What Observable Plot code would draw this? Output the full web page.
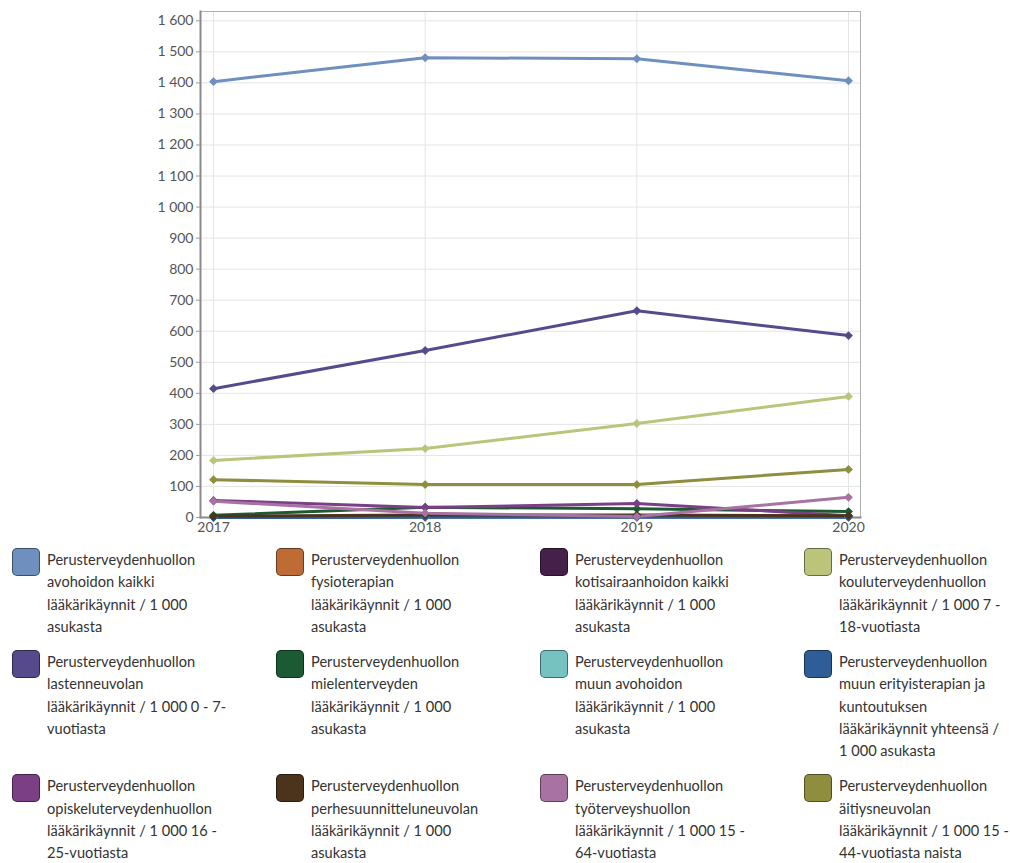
<!DOCTYPE html>
<html><head><meta charset="utf-8">
<script src="https://cdn.jsdelivr.net/npm/d3@7"></script>
<script src="https://cdn.jsdelivr.net/npm/@observablehq/plot@0.6"></script>
<style>
body{margin:0;background:#fff;font-family:"Source Sans Pro",Lato,"Open Sans",sans-serif;}
#chart svg{display:block}
#legend{display:grid;grid-template-columns:repeat(4,264px);padding-left:12px;row-gap:12px;margin-top:3px}
.item{display:flex;align-items:flex-start}
.sw{width:26px;height:26px;border-radius:5px;border:1px solid rgba(0,0,0,0.45);flex:none}
.lab{margin-left:7px;font-size:14.6px;line-height:22.25px;color:#333;white-space:pre;margin-top:1px}
</style>
</head><body>
<div id="chart"></div>
<div id="legend"></div>
<script>
const years = [2017, 2018, 2019, 2020];
const yTicks = [0,100,200,300,400,500,600,700,800,900,1000,1100,1200,1300,1400,1500,1600];
const seriesNames = [
  "Perusterveydenhuollon\navohoidon kaikki\nlääkärikäynnit / 1 000\nasukasta",
  "Perusterveydenhuollon\nfysioterapian\nlääkärikäynnit / 1 000\nasukasta",
  "Perusterveydenhuollon\nkotisairaanhoidon kaikki\nlääkärikäynnit / 1 000\nasukasta",
  "Perusterveydenhuollon\nkouluterveydenhuollon\nlääkärikäynnit / 1 000 7 -\n18-vuotiasta",
  "Perusterveydenhuollon\nlastenneuvolan\nlääkärikäynnit / 1 000 0 - 7-\nvuotiasta",
  "Perusterveydenhuollon\nmielenterveyden\nlääkärikäynnit / 1 000\nasukasta",
  "Perusterveydenhuollon\nmuun avohoidon\nlääkärikäynnit / 1 000\nasukasta",
  "Perusterveydenhuollon\nmuun erityisterapian ja\nkuntoutuksen\nlääkärikäynnit yhteensä /\n1 000 asukasta",
  "Perusterveydenhuollon\nopiskeluterveydenhuollon\nlääkärikäynnit / 1 000 16 -\n25-vuotiasta",
  "Perusterveydenhuollon\nperhesuunnitteluneuvolan\nlääkärikäynnit / 1 000\nasukasta",
  "Perusterveydenhuollon\ntyöterveyshuollon\nlääkärikäynnit / 1 000 15 -\n64-vuotiasta",
  "Perusterveydenhuollon\näitiysneuvolan\nlääkärikäynnit / 1 000 15 -\n44-vuotiasta naista"
];
const seriesColors = ["#6f8fbf","#bf6b35","#45214a","#bcc47b","#574a8c","#1b5a33","#75c2c1","#2f5d98","#7b3f86","#4c341c","#a873a3","#8f8e3f"];
const avohoito        = [1404, 1481, 1478, 1407];
const fysioterapia    = [1, 2, 2, 2];
const kotisairaanhoito= [3, 4, 4, 4];
const koulu           = [184, 222, 303, 390];
const lastenneuvola   = [415, 538, 666, 586];
const mielenterveys   = [7, 33, 28, 19];
const muuAvohoito     = [1, 1, 1, 1];
const erityisterapia  = [0, 1, 1, 1];
const opiskelu        = [55, 32, 45, 6];
const perhesuunnittelu= [4, 8, 8, 6];
const tyoterveys      = [52, 14, 3, 65];
const aitiysneuvola   = [122, 106, 106, 155];
const seriesValues = [avohoito, fysioterapia, kotisairaanhoito, koulu, lastenneuvola, mielenterveys, muuAvohoito, erityisterapia, opiskelu, perhesuunnittelu, tyoterveys, aitiysneuvola];

const data = [];
seriesNames.forEach((s, i) => years.forEach((yr, j) => data.push({series: s, year: yr, value: seriesValues[i][j]})));

const fmt = d3.formatLocale({thousands: "\u00a0", grouping: [3], decimal: ","}).format(",d");

const chart = Plot.plot({
  width: 1010, height: 545,
  marginLeft: 200, marginRight: 150, marginTop: 11, marginBottom: 28,
  style: {fontFamily: '"Source Sans Pro", Lato, "Open Sans", sans-serif'},
  x: {domain: [2017, 2020], insetLeft: 13, insetRight: 12, label: null},
  y: {domain: [0, 1630], label: null},
  color: {domain: seriesNames, range: seriesColors},
  marks: [
    Plot.gridY(yTicks, {stroke: "#e4e4e4", strokeOpacity: 1}),
    Plot.gridX(years, {stroke: "#e4e4e4", strokeOpacity: 1}),
    Plot.frame({stroke: "#b0b0b0", strokeWidth: 1}),
    Plot.frame({anchor: "left", stroke: "#8a8a8a", strokeWidth: 2}),
    Plot.frame({anchor: "bottom", stroke: "#8a8a8a", strokeWidth: 2}),
    Plot.axisY(yTicks, {tickSize: 4, tickPadding: 3, tickFormat: fmt, fontSize: 14, fill: "#555", stroke: "#999", label: null}),
    Plot.axisX(years, {tickSize: 3, tickPadding: 2, tickFormat: d => String(d), fontSize: 14, fill: "#555", stroke: "#999", label: null}),
    Plot.line(data, {x: "year", y: "value", stroke: "series", z: "series", strokeWidth: 3}),
    Plot.dot(data, {x: "year", y: "value", fill: "series", symbol: "diamond2", r: 4})
  ]
});
document.getElementById("chart").appendChild(chart);

const legend = document.getElementById("legend");
seriesNames.forEach((s, i) => {
  const item = document.createElement("div");
  item.className = "item";
  const sw = document.createElement("div");
  sw.className = "sw";
  sw.style.background = seriesColors[i];
  const lab = document.createElement("div");
  lab.className = "lab";
  lab.textContent = s;
  item.appendChild(sw); item.appendChild(lab);
  legend.appendChild(item);
});
</script>
</body></html>
